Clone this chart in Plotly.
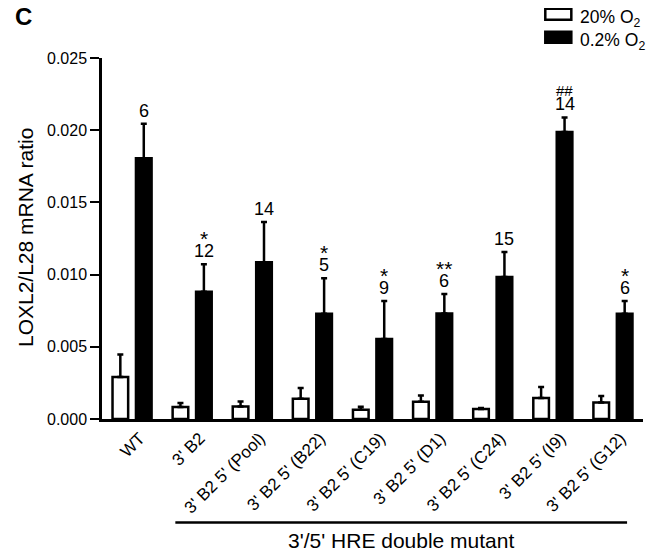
import plotly.graph_objects as go

categories = ["WT", "3' B2", "3' B2 5' (Pool)", "3' B2 5' (B22)", "3' B2 5' (C19)",
              "3' B2 5' (D1)", "3' B2 5' (C24)", "3' B2 5' (I9)", "3' B2 5' (G12)"]
normoxia = [0.00291, 0.00083, 0.00087, 0.00140, 0.00064, 0.00120, 0.00069, 0.00145, 0.00115]
normoxia_err = [0.00155, 0.00028, 0.00035, 0.00075, 0.00020, 0.00043, 0.00007, 0.00077, 0.00044]
hypoxia = [0.01805, 0.00882, 0.01085, 0.00729, 0.00554, 0.00731, 0.00983, 0.01988, 0.00729]
hypoxia_err = [0.00240, 0.00190, 0.00280, 0.00245, 0.00263, 0.00135, 0.00174, 0.00100, 0.00088]
n_labels = ["6", "12", "14", "5", "9", "6", "15", "14", "6"]
sig_labels = ["", "*", "", "*", "*", "**", "", "##", "*"]

FONT = "Liberation Sans, Arial, sans-serif"
idx = list(range(len(categories)))
BW = 0.26
OFF = 0.195
LABEL_SHIFT = 0.13

fig = go.Figure()
fig.add_trace(go.Bar(
    x=idx, y=normoxia, width=BW, offset=-OFF - BW / 2,
    marker=dict(color="white", line=dict(color="black", width=2.5)),
    error_y=dict(type="data", array=normoxia_err, arrayminus=[0] * len(idx), symmetric=False,
                 color="black", thickness=2.5, width=3),
    name="20% O2", showlegend=False))
fig.add_trace(go.Bar(
    x=idx, y=hypoxia, width=BW, offset=OFF - BW / 2,
    marker=dict(color="black", line=dict(color="black", width=2.5)),
    error_y=dict(type="data", array=hypoxia_err, arrayminus=[0] * len(idx), symmetric=False,
                 color="black", thickness=2.5, width=3),
    name="0.2% O2", showlegend=False))

annotations = []
for i in idx:
    top = hypoxia[i] + hypoxia_err[i]
    annotations.append(dict(x=i + OFF, y=top, xref="x", yref="y", text=n_labels[i],
                            showarrow=False, yanchor="bottom", yshift=1,
                            font=dict(family=FONT, size=18, color="black")))
    if sig_labels[i]:
        is_hash = sig_labels[i] == "##"
        annotations.append(dict(x=i + OFF, y=top, xref="x", yref="y", text=sig_labels[i],
                                showarrow=False, yanchor="bottom",
                                yshift=16 if is_hash else 12,
                                font=dict(family=FONT, size=15 if is_hash else 21, color="black")))

# panel letter
annotations.append(dict(x=-0.1455, y=1.1144, xref="paper", yref="paper", text="<b>C</b>",
                        showarrow=False, xanchor="center", yanchor="middle",
                        font=dict(family=FONT, size=24, color="black")))
# y title
annotations.append(dict(x=-0.14, y=0.502, xref="paper", yref="paper", text="LOXL2/L28 mRNA ratio",
                        showarrow=False, textangle=-90, xanchor="center", yanchor="middle",
                        font=dict(family=FONT, size=21, color="black")))
# group label
annotations.append(dict(x=4.48, y=-0.337, xref="x", yref="paper", text="3'/5' HRE double mutant",
                        showarrow=False, xanchor="center", yanchor="middle",
                        font=dict(family=FONT, size=21, color="black")))
# legend texts
annotations.append(dict(x=0.8804, y=1.1213, xref="paper", yref="paper", text="20% O<sub>2</sub>",
                        showarrow=False, xanchor="left", yanchor="middle", yshift=-4,
                        font=dict(family=FONT, size=17.5, color="black")))
annotations.append(dict(x=0.8804, y=1.0576, xref="paper", yref="paper", text="0.2% O<sub>2</sub>",
                        showarrow=False, xanchor="left", yanchor="middle", yshift=-4,
                        font=dict(family=FONT, size=17.5, color="black")))

shapes = [
    dict(type="line", xref="x", yref="paper", x0=0.72, x1=8.235, y0=-0.2864, y1=-0.2864,
         line=dict(color="black", width=2.5)),
    dict(type="rect", xref="paper", yref="paper", x0=0.8194, x1=0.8675, y0=1.1061, y1=1.1366,
         line=dict(color="black", width=2.5), fillcolor="white"),
    dict(type="rect", xref="paper", yref="paper", x0=0.8194, x1=0.8675, y0=1.0424, y1=1.0729,
         line=dict(color="black", width=2.5), fillcolor="black"),
]

# the page body has an 8px margin, so the figure is drawn 8px up-left to compensate
fig.update_layout(
    width=655, height=555,
    margin=dict(l=94, r=20, t=50, b=144, autoexpand=False),
    paper_bgcolor="white", plot_bgcolor="white",
    barmode="overlay",
    font=dict(family=FONT, size=17, color="black"),
    annotations=annotations, shapes=shapes,
    xaxis=dict(range=[-0.5, 8.5], tickmode="array",
               tickvals=[i + LABEL_SHIFT for i in idx], ticktext=categories,
               tickangle=-45, showline=True, linecolor="black", linewidth=2.5,
               ticks="", showgrid=False, zeroline=False,
               tickfont=dict(family=FONT, size=17, color="black")),
    yaxis=dict(range=[0, 0.025], dtick=0.005, tickformat=".3f", showline=True,
               linecolor="black", linewidth=2.5, ticks="outside", ticklen=9, tickwidth=2,
               tickcolor="black", showgrid=False, zeroline=False,
               tickfont=dict(family=FONT, size=16, color="black")),
)

fig.write_html("out.html")
